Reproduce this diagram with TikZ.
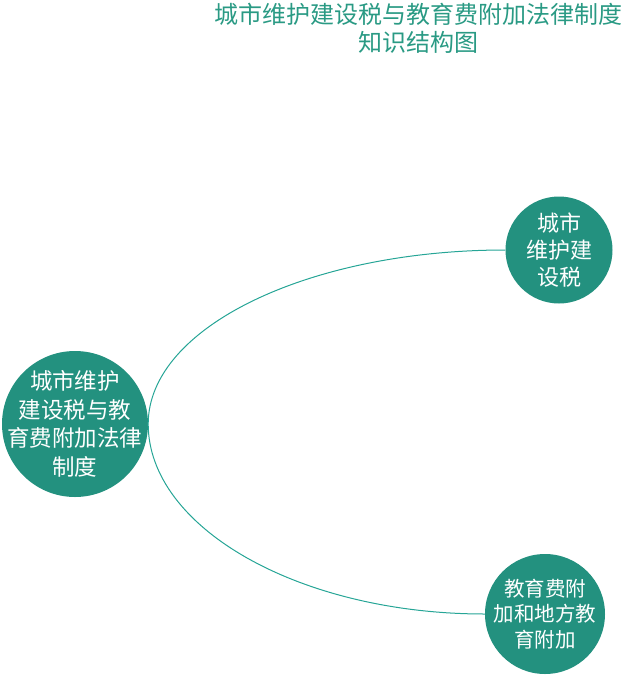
\documentclass[tikz,border=0pt]{standalone}
\usepackage{fontspec}
\usepackage{xcolor}
\newfontfamily\cjk{Noto Sans CJK SC}
\definecolor{customcolor1}{HTML}{23917F}
\definecolor{customcolor2}{HTML}{26A596}
\definecolor{customcolor3}{HTML}{2A9A84}

\begin{document}
\begin{tikzpicture}[x = 1pt, y = -1pt]
        \useasboundingbox (0, 0) rectangle (622, 675);

        % Title
        \node [text = customcolor3, align = center, font = \cjk\fontsize{24}{28}\selectfont] (title) at (418, 28) {城市维护建设税与教育费附加法律制度\\知识结构图};

        % Nodes
        \node [fill = customcolor1, circle, minimum size = 146pt, inner sep = 0pt] (a) at (75, 424) {};
        \node [fill = customcolor1, circle, minimum size = 107pt, inner sep = 0pt] (b) at (559, 250) {};
        \node [fill = customcolor1, circle, minimum size = 120pt, inner sep = 0pt] (c) at (545, 614) {};

        % Texts
        \node [text = white, align = center, font = \cjk\fontsize{22.5}{28.5}\selectfont] (a-text) at (a.center) {城市维护\\建设税与教\\育费附加法律\\制度};
        \node [text = white, align = center, font = \cjk\fontsize{22}{27}\selectfont] (b-text) at (b.center) {城市\\维护建\\设税};
        \node [text = white, align = center, font = \cjk\fontsize{20.5}{25.5}\selectfont] (c-text) at (c.center) {教育费附\\加和地方教\\育附加};

        % Lines
        \draw [customcolor2, line width = 1pt] (a.east) .. controls +(0, -97) and +(-196, 0) .. (b.west);
        \draw [customcolor2, line width = 1pt] (a.east) .. controls +(0, 104) and +(-185, 0) .. (c.west);

    \end{tikzpicture}
\end{document}
